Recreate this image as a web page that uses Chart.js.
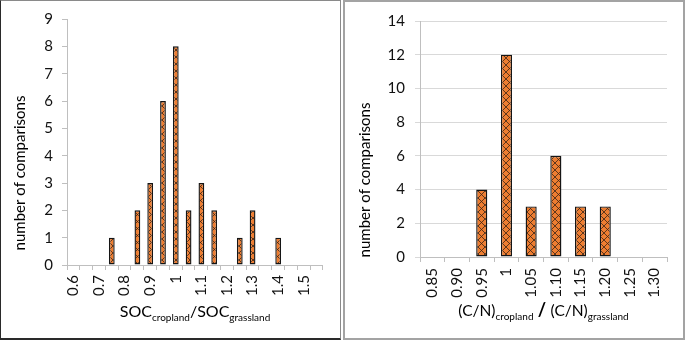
<!DOCTYPE html>
<html>
<head>
<meta charset="utf-8">
<script src="https://cdn.jsdelivr.net/npm/chart.js@4.4.0/dist/chart.umd.min.js"></script>
<style>
  body { margin: 0; background: #fff; width: 685px; height: 340px; position: relative; overflow: hidden; }
  .panel { position: absolute; top: 0; box-sizing: border-box; height: 340px; background: #fff; }
  #p1 { left: 0; width: 341px; border: 1px solid #8a8a8a; border-left-color: #2a2a2a; border-bottom: 2px solid #2a2a2a; }
  #p2 { left: 343px; width: 342px; border: 2px solid #a3a3a3; }
  canvas { display: block; }
</style>
</head>
<body>
<div class="panel" id="p1"><canvas id="socChart" width="339" height="337"></canvas></div>
<div class="panel" id="p2"><canvas id="cnChart" width="338" height="336"></canvas></div>
<script>
// Two histograms: SOC ratio and C/N ratio, cropland vs grassland

// --- data ---
const socBins = ['0.6', '0.65', '0.7', '0.75', '0.8', '0.85', '0.9', '0.95', '1', '1.05',
                 '1.1', '1.15', '1.2', '1.25', '1.3', '1.35', '1.4', '1.45', '1.5', '1.55'];
const socCounts = [0, 0, 0, 1, 0, 2, 3, 6, 8, 2, 3, 2, 0, 1, 2, 0, 1, 0, 0, 0];
const socTicks = [0, 1, 2, 3, 4, 5, 6, 7, 8, 9];

const cnBins = ['0.85', '0.90', '0.95', '1', '1.05', '1.10', '1.15', '1.20', '1.25', '1.30'];
const cnCounts = [0, 0, 4, 12, 3, 6, 3, 3, 0, 0];
const cnTicks = [0, 2, 4, 6, 8, 10, 12, 14];

const yTitle = 'number of comparisons';

const FONT = 'Lato, "Open Sans", sans-serif';
const ORANGE = '#ED7D31';
const TEXT = '#111';

// orange fill with dark cross-hatch, like the Excel pattern fill
function hatch() {
  const n = 7;
  const c = document.createElement('canvas');
  c.width = n; c.height = n;
  const g = c.getContext('2d');
  g.fillStyle = ORANGE;
  g.fillRect(0, 0, n, n);
  g.strokeStyle = '#3a2415';
  g.lineWidth = 0.8;
  g.beginPath();
  g.moveTo(0, 0); g.lineTo(n, n);
  g.moveTo(n, 0); g.lineTo(0, n);
  g.stroke();
  return g.createPattern(c, 'repeat');
}

// axis titles drawn by hand so the x title can carry subscripts
const titlesPlugin = {
  id: 'titles',
  afterDraw(chart, args, opts) {
    const { ctx, chartArea } = chart;
    ctx.save();
    ctx.fillStyle = '#000';
    // y title, rotated
    ctx.font = opts.yFont + 'px ' + FONT;
    ctx.textAlign = 'center';
    ctx.textBaseline = 'middle';
    ctx.translate(opts.yX, opts.yY);
    ctx.rotate(-Math.PI / 2);
    ctx.fillText(yTitle, 0, 0);
    ctx.setTransform(1, 0, 0, 1, 0, 0);
    // x title with subscripts
    ctx.textBaseline = 'alphabetic';
    ctx.textAlign = 'left';
    const fontOf = p => (p.bold ? 'bold ' : '') + (p.sub ? opts.subSize : p.size || opts.mainSize) + 'px ' + FONT;
    let total = 0;
    opts.parts.forEach(p => { ctx.font = fontOf(p); total += ctx.measureText(p.t).width; });
    let x = (chartArea.left + chartArea.right) / 2 - total / 2;
    opts.parts.forEach(p => {
      ctx.font = fontOf(p);
      ctx.fillText(p.t, x, opts.xBase + (p.sub ? 4 : 0));
      x += ctx.measureText(p.t).width;
    });
    ctx.restore();
  }
};

function makeChart(id, bins, counts, ticks, cfg) {
  const ctx = document.getElementById(id).getContext('2d');
  return new Chart(ctx, {
    type: 'bar',
    data: {
      labels: bins,
      datasets: [{
        data: counts,
        backgroundColor: hatch(),
        borderColor: '#151515',
        borderWidth: 1.4,
        borderSkipped: false,
        categoryPercentage: 1,
        barPercentage: 0.45
      }]
    },
    options: {
      responsive: false,
      animation: false,
      layout: { padding: { top: cfg.top, right: cfg.right, left: 0, bottom: 0 } },
      plugins: {
        legend: { display: false },
        tooltip: { enabled: false },
        titles: cfg.titles
      },
      scales: {
        x: {
          afterFit: s => { s.height = cfg.xHeight; },
          grid: { offset: true, drawOnChartArea: false, tickLength: 5, color: '#bfbfbf' },
          border: { color: '#bfbfbf' },
          ticks: {
            autoSkip: false,
            maxRotation: 90,
            minRotation: 90,
            padding: cfg.xPad,
            color: TEXT,
            font: { family: FONT, size: cfg.tickSize },
            callback: (v, i) => (i % cfg.every === 0 ? bins[i] : '')
          }
        },
        y: {
          min: 0,
          max: ticks[ticks.length - 1],
          afterFit: s => { s.width = cfg.yWidth; },
          afterBuildTicks: s => { s.ticks = ticks.map(v => ({ value: v })); },
          grid: { drawOnChartArea: cfg.grid, tickLength: 5, color: cfg.grid ? '#d9d9d9' : '#bfbfbf' },
          border: { color: '#bfbfbf' },
          ticks: {
            padding: cfg.yPad,
            color: TEXT,
            font: { family: FONT, size: cfg.tickSize }
          }
        }
      }
    },
    plugins: [titlesPlugin]
  });
}

makeChart('socChart', socBins, socCounts, socTicks, {
  top: 16, right: 17, xHeight: 73, yWidth: 66, xPad: 5, yPad: 9, tickSize: 15, every: 2, grid: false,
  titles: {
    yFont: 15, yX: 19, yY: 172,
    mainSize: 16, subSize: 10, xBase: 316,
    parts: [
      { t: 'SOC' }, { t: 'cropland', sub: true }, { t: '/SOC' }, { t: 'grassland', sub: true }
    ]
  }
});

makeChart('cnChart', cnBins, cnCounts, cnTicks, {
  top: 15, right: 16, xHeight: 81, yWidth: 75, xPad: 6, yPad: 10, tickSize: 15, every: 1, grid: true,
  titles: {
    yFont: 15, yX: 20, yY: 178,
    mainSize: 15.5, subSize: 10, xBase: 314,
    parts: [
      { t: '(C/N)' }, { t: 'cropland', sub: true }, { t: ' / ', bold: true, size: 18 },
      { t: '(C/N)' }, { t: 'grassland', sub: true }
    ]
  }
});
</script>
</body>
</html>
